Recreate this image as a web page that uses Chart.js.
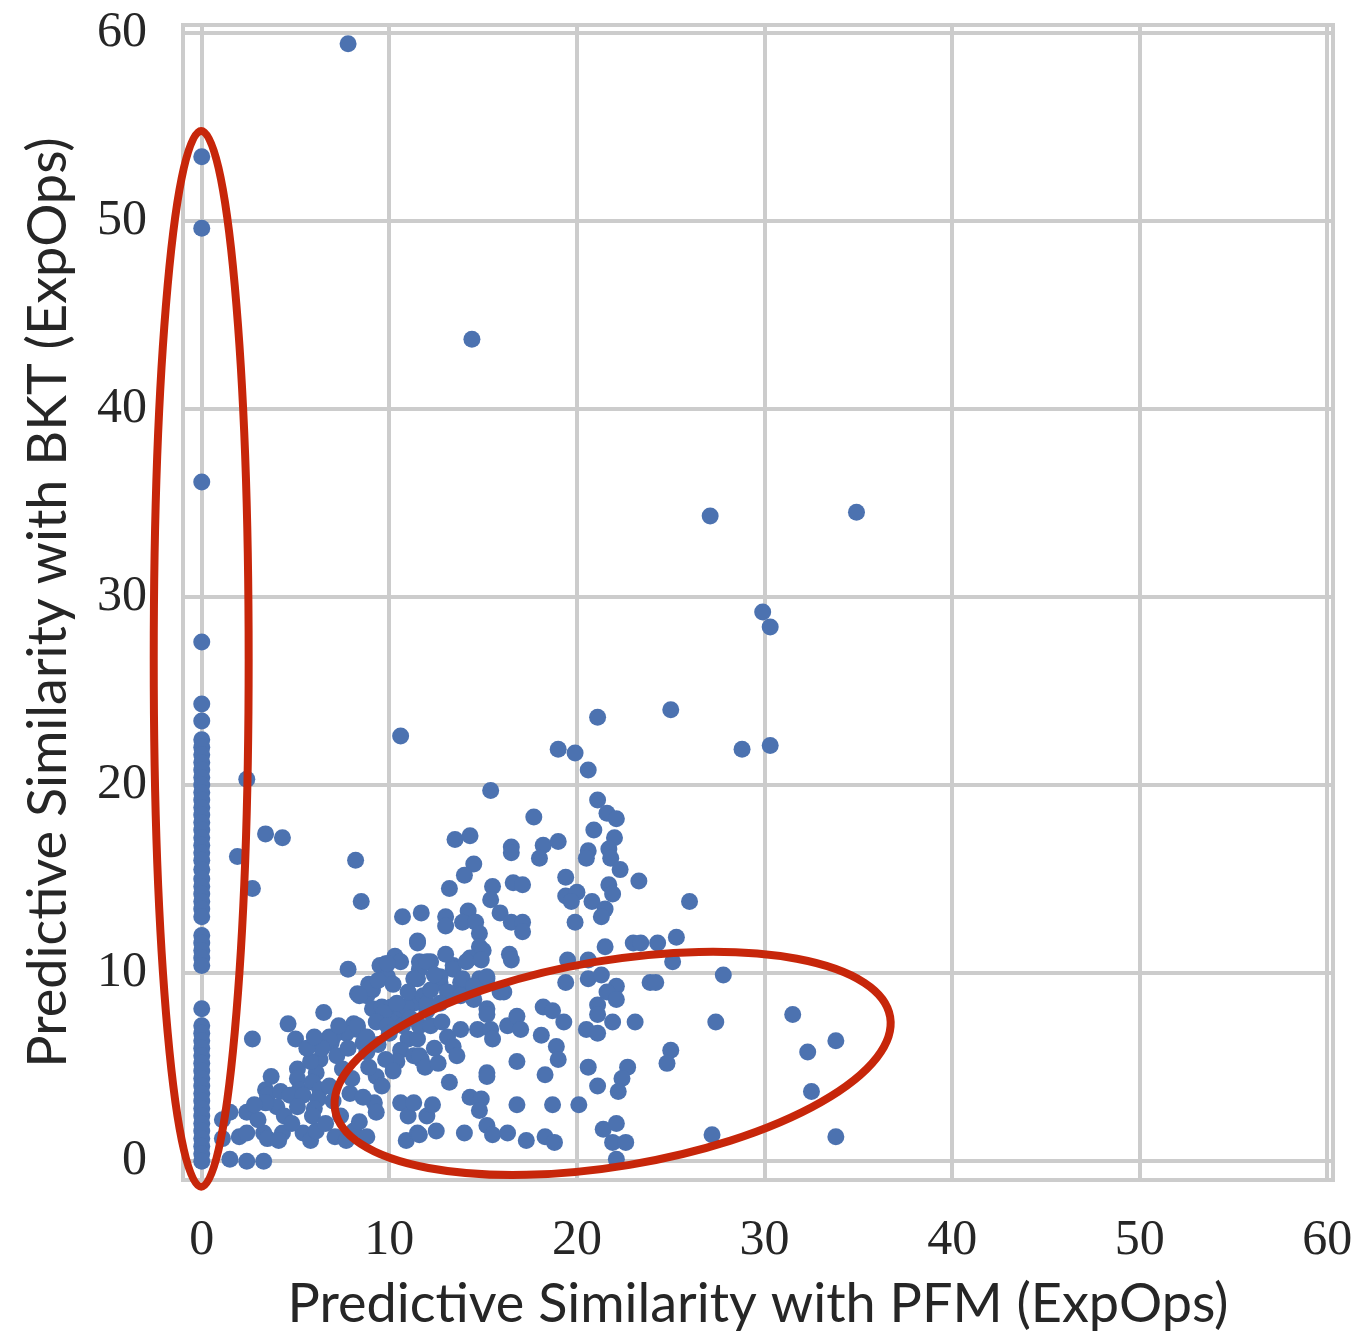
<!DOCTYPE html>
<html>
<head>
<meta charset="utf-8">
<script src="https://cdn.jsdelivr.net/npm/chart.js@4.4.0/dist/chart.umd.min.js"></script>
<style>
  html, body { margin: 0; padding: 0; background: #fff; }
</style>
</head>
<body>
<canvas id="scatterChart" width="1356" height="1336"></canvas>
<script>
// tick values on both axes
const xTickValues = [0, 10, 20, 30, 40, 50, 60];
const yTickValues = [0, 10, 20, 30, 40, 50, 60];

// BKT similarity for the KCs whose PFM similarity is 0
const zeroPfmBkt = [53.4, 49.6, 36.1, 27.6, 24.3, 23.4, 22.4, 22.0, 21.6, 21.2, 20.8, 20.4, 20.0,
  19.6, 19.2, 18.8, 18.4, 18.0, 17.6, 17.2, 16.8, 16.4, 16.0, 15.5, 15.0, 14.6, 14.2, 13.8, 13.4,
  13.0, 12.0, 11.6, 11.2, 10.8, 10.4, 8.1, 7.2, 6.8, 6.4, 6.0, 5.6, 5.2, 4.8, 4.4, 4.0, 3.6, 3.2,
  2.8, 2.4, 2.0, 1.6, 1.2, 0.8, 0.4, 0.0];

// [PFM similarity, BKT similarity] for the rest
const simPairs = [
  [7.8, 59.4], [14.4, 43.7], [27.1, 34.3], [34.9, 34.5], [29.9, 29.2], [30.3, 28.4], [25.0, 24.0],
  [21.1, 23.6], [10.6, 22.6], [19.0, 21.9], [19.9, 21.7], [28.8, 21.9], [30.3, 22.1], [20.6, 20.8],
  [2.4, 20.3], [15.4, 19.7], [17.7, 18.3], [21.1, 19.2], [21.6, 18.5], [22.1, 18.2], [3.4, 17.4],
  [4.3, 17.2], [1.9, 16.2], [2.7, 14.5], [8.2, 16.0], [8.5, 13.8],
  [13.5, 17.1], [14.3, 17.3], [16.5, 16.7], [16.5, 16.4], [18.2, 16.8], [19.0, 17.0], [18.0, 16.1],
  [14.5, 15.8], [14.0, 15.2], [13.2, 14.5], [15.5, 14.6], [16.6, 14.8], [17.1, 14.7], [19.4, 15.1],
  [20.9, 17.6], [22.0, 17.2], [20.6, 16.5], [20.5, 16.1], [21.7, 16.6], [21.8, 16.1], [22.3, 15.5],
  [23.3, 14.9], [21.7, 14.7], [21.9, 14.2], [19.4, 14.1], [20.0, 14.3], [19.7, 13.8], [20.8, 13.8],
  [21.5, 13.4], [21.3, 13.0], [19.9, 12.7], [15.4, 13.9], [15.9, 13.2], [16.5, 12.7], [17.1, 12.7],
  [17.1, 12.2], [13.0, 13.0], [13.0, 12.5], [14.2, 13.3], [13.9, 12.7], [14.6, 12.7], [14.8, 12.1],
  [14.8, 11.4], [14.3, 10.8], [15.0, 11.2], [16.4, 11.0], [13.4, 10.4], [19.5, 10.7], [20.6, 10.7],
  [21.5, 11.4], [23.0, 11.6], [24.3, 11.6],
  [10.7, 13.0], [11.7, 13.2], [11.5, 11.7], [10.3, 10.9], [9.8, 10.5], [7.8, 10.2], [11.6, 10.6],
  [12.2, 10.6],
  [9.5, 10.4], [9.9, 9.8], [10.6, 10.6], [11.5, 9.7], [8.9, 9.4], [9.1, 9.1], [8.3, 8.9], [8.8, 8.8],
  [6.5, 7.9], [4.6, 7.3], [5.0, 6.5], [2.7, 6.5], [6.8, 6.6], [6.9, 6.3], [8.1, 7.3], [8.3, 7.0],
  [7.7, 6.8], [8.6, 6.3], [8.8, 5.8], [9.1, 8.1], [9.6, 8.2], [10.1, 8.2], [10.4, 7.7], [10.7, 7.2],
  [11.3, 8.4], [11.8, 8.8], [12.0, 8.0], [11.0, 6.5], [11.5, 6.5], [10.6, 5.9], [10.4, 5.3],
  [11.3, 5.6], [11.7, 5.4], [9.8, 5.4], [9.3, 4.5], [8.9, 5.0], [7.5, 4.9], [6.3, 5.4], [6.1, 4.7],
  [5.1, 4.9], [5.1, 4.4], [5.2, 3.8], [5.9, 4.2], [3.7, 4.5], [3.4, 3.8], [3.5, 3.5], [4.2, 3.7],
  [4.7, 3.5], [5.4, 3.5], [6.3, 3.8], [6.2, 3.3], [6.0, 2.8], [5.1, 2.9], [4.0, 2.9], [3.4, 3.1],
  [2.4, 2.6], [1.1, 2.2], [1.5, 2.6], [1.1, 1.2], [2.0, 1.3], [2.4, 1.5], [3.3, 1.5], [3.5, 1.2],
  [4.3, 1.5], [4.1, 1.1], [5.4, 1.5], [5.8, 1.1], [6.1, 1.6], [5.9, 2.4], [7.1, 1.3], [7.7, 1.1],
  [8.1, 1.6], [8.4, 2.1], [9.2, 3.1], [9.3, 2.6], [8.8, 1.3], [10.6, 3.1], [11.0, 2.4], [11.3, 3.1],
  [12.0, 2.4], [10.9, 1.1], [11.5, 1.5], [1.5, 0.1], [2.4, 0.0], [3.3, 0.0],
  [9.0, 9.2], [8.4, 8.8], [9.9, 10.5], [11.5, 11.6], [11.6, 10.2], [11.3, 9.7], [12.7, 9.5],
  [13.4, 10.2], [13.8, 9.5], [14.3, 9.1], [14.8, 9.7], [15.2, 9.7], [16.1, 9.0], [13.3, 8.9],
  [12.0, 8.4], [10.6, 8.1], [10.9, 8.2], [9.7, 7.9], [10.4, 8.4], [8.3, 7.2], [8.8, 6.6], [9.3, 7.4],
  [9.9, 7.2], [7.0, 6.6], [6.8, 6.5], [5.8, 5.3],
  [12.0, 10.6], [12.7, 9.8], [13.9, 9.7], [14.5, 9.3], [15.2, 9.8], [14.1, 10.6], [14.9, 10.7],
  [16.5, 10.7], [12.2, 9.1], [13.1, 9.0], [13.8, 8.8], [12.7, 8.4], [14.5, 8.6], [15.9, 9.0],
  [15.2, 8.1], [11.6, 7.2], [12.2, 7.2], [13.1, 6.6], [13.4, 6.1], [13.6, 5.6], [13.8, 7.0],
  [14.7, 7.0], [15.4, 7.0], [15.5, 6.5], [16.3, 7.2], [16.8, 7.7], [17.0, 7.0], [15.2, 7.8],
  [18.2, 8.2], [18.7, 8.0], [19.3, 7.4], [18.1, 6.7], [18.9, 6.1], [19.0, 5.4], [19.4, 9.5],
  [16.8, 5.3], [18.3, 4.6], [15.2, 4.7], [15.2, 4.5], [13.2, 4.2], [11.6, 5.6], [11.9, 5.0],
  [14.3, 3.4], [14.9, 3.3], [14.8, 2.7], [16.8, 3.0], [18.7, 3.0], [20.1, 3.0], [12.3, 3.0],
  [11.6, 1.4], [12.5, 1.6], [14.0, 1.5], [15.2, 1.9], [15.5, 1.4], [16.3, 1.5], [17.3, 1.1],
  [18.3, 1.3], [18.8, 1.0], [20.6, 9.7], [21.3, 9.9], [22.1, 9.3], [21.6, 9.0], [22.1, 8.6],
  [21.1, 8.3], [21.1, 7.8], [21.9, 7.4], [20.5, 7.0], [21.1, 6.8], [23.1, 7.4], [23.9, 9.5],
  [20.6, 5.0], [22.7, 5.0], [22.4, 4.4], [22.2, 3.7], [21.1, 4.0], [21.4, 1.7], [22.1, 2.0],
  [21.9, 1.0], [22.6, 1.0], [22.1, 0.1],
  [26.0, 13.8], [23.4, 11.6], [25.3, 11.9], [25.1, 10.6], [24.2, 9.5], [27.8, 9.9], [27.4, 7.4],
  [25.0, 5.9], [24.8, 5.2], [31.5, 7.8], [33.8, 6.4], [32.3, 5.8], [32.5, 3.7], [27.2, 1.4],
  [33.8, 1.3],
  [6.6, 2.0], [7.0, 3.2], [7.4, 2.4], [6.8, 4.0], [7.9, 3.6], [8.0, 4.4], [8.6, 3.4], [7.2, 5.6],
  [7.8, 6.0], [6.4, 6.0], [9.4, 6.2], [10.0, 6.8], [9.6, 4.0], [10.2, 4.8], [12.4, 6.0], [12.8, 7.4],
  [11.1, 7.6], [12.6, 5.2], [4.4, 2.4], [3.0, 2.2], [2.8, 3.0], [4.8, 2.0], [5.6, 6.0], [6.0, 6.6],
  [7.3, 7.2], [9.4, 9.6], [10.2, 9.4], [11.0, 9.0], [12.4, 9.9], [13.0, 11.0]
];

// hand-drawn highlight ellipses, in data units (angle in degrees, counter-clockwise)
const highlightEllipses = [
  { cx: -0.03, cy: 26.7, rx: 2.53, ry: 28.06, angle: 0 },
  { cx: 21.9, cy: 5.2, rx: 15.0, ry: 5.47, angle: 9.5 }
];

const gridColor = '#cccccc';
const textColor = '#262626';

const points = zeroPfmBkt.map(y => ({ x: 0, y: y }))
  .concat(simPairs.map(p => ({ x: p[0], y: p[1] })));

const framePlugin = {
  id: 'frame',
  beforeDatasetsDraw(chart) {
    const { ctx, chartArea } = chart;
    ctx.save();
    ctx.strokeStyle = gridColor;
    ctx.lineWidth = 4;
    ctx.strokeRect(chartArea.left, chartArea.top, chartArea.right - chartArea.left, chartArea.bottom - chartArea.top);
    ctx.restore();
  }
};

const ellipsePlugin = {
  id: 'ellipses',
  afterDatasetsDraw(chart) {
    const { ctx } = chart;
    const xs = chart.scales.x, ys = chart.scales.y;
    ctx.save();
    ctx.strokeStyle = '#c7260a';
    ctx.lineWidth = 8;
    highlightEllipses.forEach(e => {
      const px = xs.getPixelForValue(e.cx);
      const py = ys.getPixelForValue(e.cy);
      const rx = Math.abs(xs.getPixelForValue(e.cx + e.rx) - px);
      const ry = Math.abs(ys.getPixelForValue(e.cy + e.ry) - py);
      ctx.beginPath();
      ctx.ellipse(px, py, rx, ry, -e.angle * Math.PI / 180, 0, Math.PI * 2);
      ctx.stroke();
    });
    ctx.restore();
  }
};

const ctx = document.getElementById('scatterChart').getContext('2d');
new Chart(ctx, {
  type: 'scatter',
  data: {
    datasets: [{
      label: 'KC',
      data: points,
      backgroundColor: '#4c72b0',
      borderWidth: 0,
      pointRadius: 8.5,
      pointHoverRadius: 8.5
    }]
  },
  options: {
    responsive: false,
    animation: false,
    layout: { padding: { top: 25, right: 23, left: 0, bottom: 0 } },
    plugins: { legend: { display: false }, tooltip: { enabled: false } },
    scales: {
      x: {
        type: 'linear',
        min: -1,
        max: 60.3,
        afterBuildTicks: s => { s.ticks = xTickValues.map(v => ({ value: v })); },
        afterFit: s => { s.height = 156; s.paddingLeft = 0; s.paddingRight = 0; },
        grid: { color: gridColor, lineWidth: 4, drawTicks: false },
        border: { display: false },
        ticks: {
          padding: 31,
          color: textColor,
          font: { family: 'Liberation Serif', size: 50 }
        },
        title: {
          display: true,
          text: 'Predictive Similarity with PFM (ExpOps)',
          color: textColor,
          font: { family: 'Lato', size: 54, lineHeight: 1 },
          padding: { top: 0, bottom: 4 }
        }
      },
      y: {
        type: 'linear',
        min: -1,
        max: 60.4,
        afterBuildTicks: s => { s.ticks = yTickValues.map(v => ({ value: v })); },
        afterFit: s => { s.width = 183; s.paddingTop = 0; s.paddingBottom = 0; },
        grid: { color: gridColor, lineWidth: 4, drawTicks: false },
        border: { display: false },
        ticks: {
          padding: 36,
          color: textColor,
          font: { family: 'Liberation Serif', size: 50 }
        },
        title: {
          display: true,
          text: 'Predictive Similarity with BKT (ExpOps)',
          color: textColor,
          font: { family: 'Lato', size: 54, lineHeight: 1 },
          padding: { top: 22, bottom: 0 }
        }
      }
    }
  },
  plugins: [framePlugin, ellipsePlugin]
});
</script>
</body>
</html>
